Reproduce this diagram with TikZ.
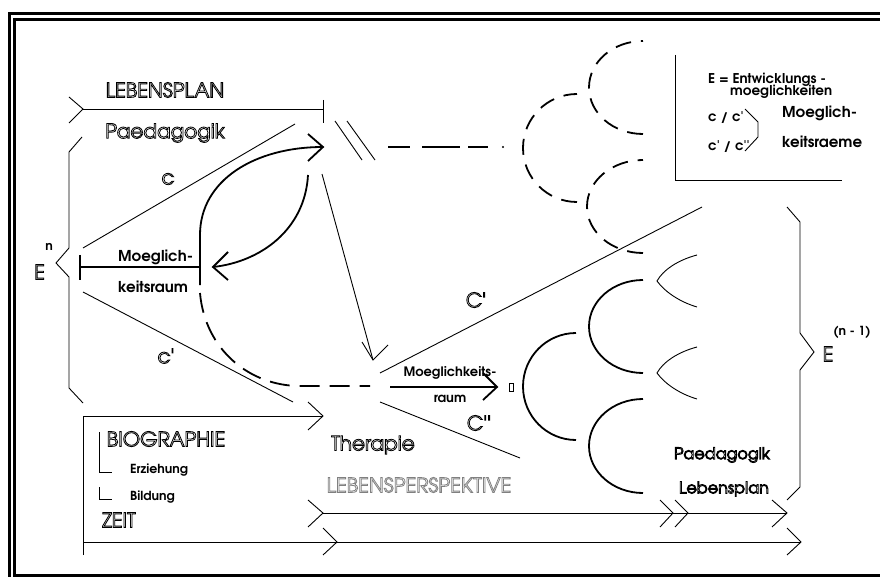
\documentclass[tikz,border=0pt]{standalone}
\usepackage{fontspec}
\setmainfont[Ligatures=TeXOff]{TeX Gyre Adventor}
\newcommand\outl[1]{\special{pdf:literal direct 1 Tr 0.8 w}#1\special{pdf:literal direct 0 Tr}}
\tikzset{
  thinl/.style={line width=0.9pt},
  heavy/.style={line width=1.8pt},
  dsh/.style={line width=1.8pt, dash pattern=on 16pt off 10pt},
  dshb/.style={line width=1.8pt, dash pattern=on 20pt off 10pt},
  otext/.style={inner sep=0pt, font=\fontsize{20}{20}\selectfont},
  omid/.style={inner sep=0pt, font=\fontsize{16}{16}\selectfont},
  btext/.style={inner sep=0pt, font=\bfseries\fontsize{13}{13}\selectfont},
  blarge/.style={inner sep=0pt, font=\bfseries\fontsize{15}{15}\selectfont},
  bsmall/.style={inner sep=0pt, font=\bfseries\fontsize{12.5}{12.5}\selectfont},
  bleg/.style={inner sep=0pt, font=\bfseries\fontsize{13.5}{13.5}\selectfont},
}
\begin{document}
\begin{tikzpicture}[x=1pt,y=-1pt,line join=miter]
\useasboundingbox (0,0) rectangle (880,577);
\clip (0,0) rectangle (880,577);
\fill[white] (0,0) rectangle (880,577);
% frame
\draw[line width=3pt] (9.5,600) -- (9.5,13.5) -- (900,13.5);
\draw[line width=3pt] (900,575.5) -- (14.5,575.5) -- (14.5,19.5) -- (900,19.5);
% Lebensplan bar
\draw[thinl] (69,97) -- (83,109) -- (69,123);
\draw[thinl] (83,109) -- (323,109);
\draw[thinl] (323,100) -- (323,123);
\node[otext] (lp) at (165,90) {\outl{LEBENSPLAN}};
\node[otext] (pd) at (165,133) {\outl{Paedagogik}};
% left bracket
\draw[thinl] (82,137) -- (69,152) -- (69,248) -- (56,263) -- (69,277) -- (69,388) -- (83,403);
\node[otext] (El) at (39.5,272) {\outl{E}};
\node[bsmall] (nl) at (49,247) {n};
% c lines
\draw[thinl] (83,248) -- (295,124);
\node[otext] (lc) at (168,179) {\outl{c}};
\draw[thinl] (83,292) -- (293,402);
\node[otext] (lc1) at (166,356) {\outl{c'}};
% Moeglichkeitsraum
\draw[heavy] (80,255) -- (80,280);
\draw[heavy] (80,267) -- (200,267);
\node[blarge,anchor=west] (m1) at (118,257) {Moeglich-};
\node[blarge,anchor=west] (m2) at (118,287) {keitsraum};
\draw[heavy] (200,285) -- (200,235) .. controls (200,180) and (255,147) .. (323,147);
\draw[heavy] (308,134) -- (323,147) -- (308,161);
\draw[heavy] (308,175) .. controls (305,230) and (260,262) .. (213,267);
\draw[heavy] (228,252) -- (213,267) -- (228,280);
\draw[dshb] (200,293) .. controls (205,350) and (250,386) .. (300,386) -- (370,386);
% arrow down to Therapie
\draw[thinl] (322,174) -- (373,360);
\draw[thinl] (362,342) -- (373,360) -- (388,345);
% double slash and dashes
\draw[thinl] (335,121) -- (362,160) (347,121) -- (375,160);
\draw[heavy] (388,147) -- (410,147) (422,147) -- (460,147) (468,147) -- (488,147);
\fill (503,147) circle (1.2);
% dashed arcs
\draw[dsh] (643,134) arc[start angle=90,end angle=270,x radius=54,y radius=46.5];
\draw[dsh] (577,202) arc[start angle=90,end angle=270,x radius=54,y radius=54];
\draw[dsh] (643,253) arc[start angle=90,end angle=270,x radius=56,y radius=46.5];
% legend
\draw[thinl] (675,55) -- (675,180) -- (842,180);
\node[bleg,anchor=west] (le1) at (708,80) {E = Entwicklungs -};
\node[bleg,anchor=west] (le2) at (730,92) {moeglichkeiten};
\node[bleg,anchor=west] (le3) at (708,118) {c / c'};
\node[bleg,anchor=west] (le4) at (708,147) {c' / c''};
\draw[thinl] (745,109) -- (758,122) -- (758,137) -- (745,151);
\node[blarge,anchor=west] (le5) at (782,113) {Moeglich-};
\node[blarge,anchor=west] (le6) at (782,142) {keitsraeme};
% right lines
\draw[thinl] (380,373) -- (702,207);
\node[otext] (lc2) at (476,300) {\outl{C'}};
\draw[thinl] (380,402) -- (520,458);
\node[otext] (lc3) at (479,423) {\outl{C''}};
\draw[heavy] (390,387) -- (497,387);
\draw[heavy] (483,373) -- (497,387) -- (483,400);
\node[btext] (mk1) at (450,373) {Moeglichkeits-};
\node[btext] (mk2) at (450,399) {raum};
\draw[line width=0.8pt] (509,383) rectangle (513,391);
% solid arcs
\draw[heavy] (643,373) arc[start angle=90,end angle=270,x radius=54,y radius=46.5];
\draw[heavy] (576,440) arc[start angle=90,end angle=270,x radius=53,y radius=53.5];
\draw[heavy] (643,493) arc[start angle=90,end angle=270,x radius=54,y radius=47];
% lenses
\draw[thinl] (697,255) .. controls (678,260) and (663,270) .. (657,281) .. controls (665,292) and (680,302) .. (697,307);
\draw[thinl] (697,347) .. controls (678,352) and (663,362) .. (657,373) .. controls (665,384) and (680,394) .. (697,399);
% right brace
\draw[thinl] (787,207) -- (800,222) -- (800,333) -- (814,352) -- (800,370) -- (800,487) -- (787,500);
\node[otext] (Er) at (828,354) {\outl{E}};
\node[bsmall] (nr) at (852,332) {(n - 1)};
\node[omid] (pd2) at (722,455) {\outl{Paedagogik}};
\node[omid] (lp2) at (724,489) {\outl{Lebensplan}};
% Therapie
\node[otext] (th) at (373,445) {\outl{Therapie}};
\node[otext,text=gray] (lpp) at (419,485) {\color{gray}\outl{LEBENSPERSPEKTIVE}};
% biography box
\draw[thinl] (83,555) -- (83,416) -- (323,416);
\draw[thinl] (308,402) -- (323,416) -- (308,430);
\node[otext] (bio) at (166,439) {\outl{BIOGRAPHIE}};
\draw[thinl] (99,432) -- (99,472) -- (112,472);
\draw[thinl] (99,487) -- (99,499) -- (112,499);
\node[bsmall,anchor=west] (erz) at (130,470) {Erziehung};
\node[bsmall,anchor=west] (bil) at (130,497) {Bildung};
\node[otext,anchor=west] (zeit) at (102,520) {\outl{ZEIT}};
% time arrows
\draw[thinl] (308,500) -- (323,513) -- (308,527);
\draw[thinl] (323,513) -- (787,513);
\draw[thinl] (660,500) -- (673,513) -- (660,527);
\draw[thinl] (675,500) -- (688,513) -- (675,527);
\draw[thinl] (772,500) -- (787,513) -- (772,527);
\draw[thinl] (83,542) -- (801,542);
\draw[thinl] (323,528) -- (337,542) -- (323,555);
\draw[thinl] (787,528) -- (801,542) -- (787,555);
\end{tikzpicture}
\end{document}
